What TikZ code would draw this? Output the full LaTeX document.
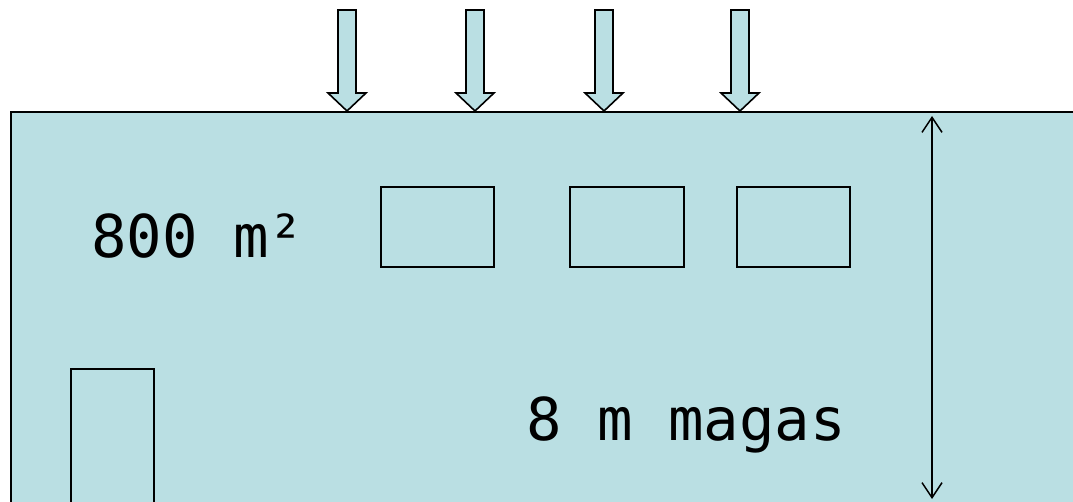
\documentclass[tikz,border=0pt]{standalone}
\usepackage{fontspec}
\setmonofont{DejaVu Sans Mono}
\usetikzlibrary{arrows.meta}
\definecolor{hall}{RGB}{186,223,227}
\tikzset{
  px/.style={x=1pt,y=-1pt},
  outline/.style={draw=black,line width=1.6pt},
  blockarrow/.style={draw=black,line width=1.6pt,fill=hall,line join=miter},
  label/.style={font=\fontsize{59}{61}\selectfont\ttfamily,inner sep=0pt,anchor=base west}
}
\begin{document}
\begin{tikzpicture}[px]
\useasboundingbox (0,0) rectangle (1073,502);
\begin{scope}
\clip (0,0) rectangle (1073,502);
% hall
\path[outline,fill=hall] (11,112) rectangle (1090,520);
% windows
\path[outline] (381,187) rectangle (494,267);
\path[outline] (570,187) rectangle (684,267);
\path[outline] (737,187) rectangle (850,267);
% door
\path[outline] (71,369) rectangle (154,520);
% block arrows
\foreach \c in {347,475,604,740}{
  \path[blockarrow] (\c-9,10) -- (\c+9,10) -- (\c+9,93) -- (\c+19,93) -- (\c,111) -- (\c-19,93) -- (\c-9,93) -- cycle;
}
% height dimension
\coordinate (htop) at (932,116);
\coordinate (hbot) at (932,499);
\draw[line width=1.5pt,{Straight Barb[length=15pt,width=20pt]}-{Straight Barb[length=15pt,width=20pt]}] (htop) -- (hbot);
% labels
\node[label] (area) at (91,258) {800 m²};
\node[label] (height) at (526,440) {8 m magas};
\end{scope}
\end{tikzpicture}
\end{document}
